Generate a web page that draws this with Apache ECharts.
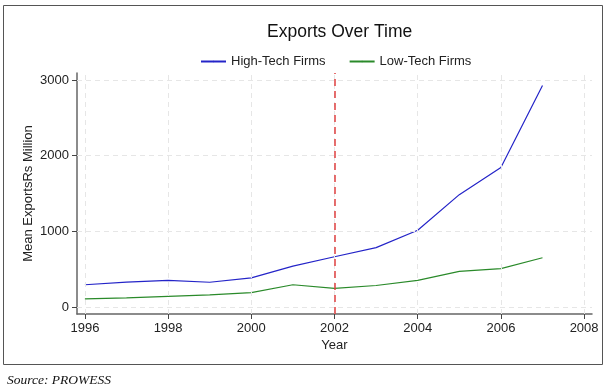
<!DOCTYPE html>
<html>
<head>
<meta charset="utf-8">
<script src="https://cdn.jsdelivr.net/npm/echarts@6/dist/echarts.min.js"></script>
<style>html,body{margin:0;padding:0;background:#fff;}#c{width:609px;height:391px;}</style>
</head>
<body>
<div id="c"></div>
<script>
const years = [1996, 1997, 1998, 1999, 2000, 2001, 2002, 2003, 2004, 2005, 2006, 2007];
const highTech = [294, 328, 352, 327, 385, 540, 664, 784, 1015, 1485, 1843, 2927];
const lowTech = [107, 119, 141, 159, 190, 294, 247, 284, 352, 470, 506, 651];
const xTicks = [1996, 1998, 2000, 2002, 2004, 2006, 2008];
const yTicks = [0, 1000, 2000, 3000];
const policyYear = 2002;

const chart = echarts.init(document.getElementById('c'), null, {renderer: 'canvas'});
const font = 'Liberation Sans, Arial, sans-serif';
const gridStyle = {type: [5, 4], color: '#e6e6e6', width: 1};
const gridLines = [];
xTicks.forEach(v => gridLines.push({xAxis: v, lineStyle: gridStyle}));
yTicks.forEach(v => gridLines.push({yAxis: v, lineStyle: gridStyle}));

chart.setOption({
  animation: false,
  backgroundColor: '#fff',
  title: [{
    text: 'Exports Over Time',
    left: 262, top: 18,
    textStyle: {fontFamily: font, fontSize: 17.5, fontWeight: 'normal', color: '#111'}
  }, {
    text: 'Source: PROWESS',
    left: 2, top: 368,
    textStyle: {fontFamily: 'Liberation Serif, Times New Roman, serif', fontSize: 13.5, fontStyle: 'italic', fontWeight: 'normal', color: '#111'}
  }],
  legend: {
    left: 195, top: 50,
    itemWidth: 25, itemHeight: 2, itemGap: 23,
    textStyle: {fontFamily: font, fontSize: 13, color: '#222'},
    data: ['High-Tech Firms', 'Low-Tech Firms']
  },
  grid: {left: 77, right: 17, top: 73, bottom: 77, containLabel: false},
  xAxis: {
    type: 'value', min: 1995.81, max: 2008.19,
    name: 'Year', nameLocation: 'middle', nameGap: 25, nameMoveOverlap: false,
    nameTextStyle: {fontFamily: font, fontSize: 13, color: '#222'},
    axisLine: {show: true, onZero: false, lineStyle: {color: '#666', width: 1.5}},
    axisTick: {show: true, length: 5, customValues: xTicks, lineStyle: {color: '#444'}},
    axisLabel: {customValues: xTicks, margin: 8, fontFamily: font, fontSize: 13, color: '#222', formatter: v => String(v)},
    splitLine: {show: false}
  },
  yAxis: {
    type: 'value', min: -93, max: 3093,
    name: 'Mean ExportsRs Million', nameLocation: 'middle', nameGap: 42, nameRotate: 90, nameMoveOverlap: false,
    nameTextStyle: {fontFamily: font, fontSize: 13, color: '#222'},
    axisLine: {show: true, onZero: false, lineStyle: {color: '#666', width: 1.5}},
    axisTick: {show: true, length: 5, customValues: yTicks, lineStyle: {color: '#444'}},
    axisLabel: {customValues: yTicks, margin: 8, fontFamily: font, fontSize: 13, color: '#222', formatter: v => String(v)},
    splitLine: {show: false}
  },
  series: [{
    name: 'High-Tech Firms', type: 'line', symbol: 'none',
    data: years.map((y, i) => [y, highTech[i]]),
    lineStyle: {color: '#2424c8', width: 1.2}, itemStyle: {color: '#2424c8'},
    markLine: {
      silent: true, symbol: 'none', label: {show: false},
      data: gridLines.concat([{xAxis: policyYear, lineStyle: {type: [7, 5], color: '#e04040', width: 1.5}}])
    },
    z: 3
  }, {
    name: 'Low-Tech Firms', type: 'line', symbol: 'none',
    data: years.map((y, i) => [y, lowTech[i]]),
    lineStyle: {color: '#2a8a2a', width: 1.2}, itemStyle: {color: '#2a8a2a'},
    z: 3
  }],
  graphic: [{
    type: 'rect', shape: {x: 3.5, y: 5.5, width: 599, height: 359},
    style: {fill: 'none', stroke: '#555', lineWidth: 1}, silent: true, z: -1
  }]
});
</script>
</body>
</html>
